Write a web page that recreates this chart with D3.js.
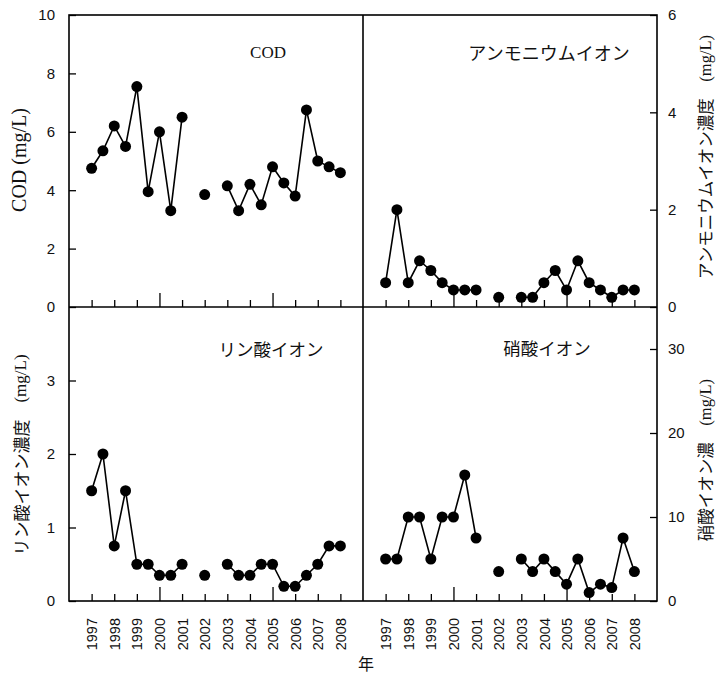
<html>
<head>
<meta charset="utf-8">
<title>水質の経年変化</title>
<script src="https://cdn.jsdelivr.net/npm/d3@7/dist/d3.min.js"></script>
<style>
	body { margin: 0; background: #fff; }
</style>
</head>
<body>
<div id="svg"></div>
<script type="text/javascript">
// sampling times (half-year steps), null values = not measured
var times = [1997, 1997.5, 1998, 1998.5, 1999, 1999.5, 2000, 2000.5, 2001, 2001.5, 2002, 2002.5,
             2003, 2003.5, 2004, 2004.5, 2005, 2005.5, 2006, 2006.5, 2007, 2007.5, 2008];
var years = [1997, 1998, 1999, 2000, 2001, 2002, 2003, 2004, 2005, 2006, 2007, 2008];

var cod       = [4.75, 5.35, 6.2, 5.5, 7.55, 3.95, 6.0, 3.3, 6.5, null, 3.85, null,
                 4.15, 3.3, 4.2, 3.5, 4.8, 4.25, 3.8, 6.75, 5.0, 4.8, 4.6];
var ammonium  = [0.5, 2.0, 0.5, 0.95, 0.75, 0.5, 0.35, 0.35, 0.35, null, 0.2, null,
                 0.2, 0.2, 0.5, 0.75, 0.35, 0.95, 0.5, 0.35, 0.2, 0.35, 0.35];
var phosphate = [1.5, 2.0, 0.75, 1.5, 0.5, 0.5, 0.35, 0.35, 0.5, null, 0.35, null,
                 0.5, 0.35, 0.35, 0.5, 0.5, 0.2, 0.2, 0.35, 0.5, 0.75, 0.75];
var nitrate   = [5, 5, 10, 10, 5, 10, 10, 15, 7.5, null, 3.5, null,
                 5, 3.5, 5, 3.5, 2, 5, 1, 2, 1.6, 7.5, 3.5];

var codTicks = [0, 2, 4, 6, 8, 10];
var ammoniumTicks = [0, 2, 4, 6];
var phosphateTicks = [0, 1, 2, 3];
var nitrateTicks = [0, 10, 20, 30];

var frame = { left: 69, right: 657, top: 15, bottom: 601, midx: 363, midy: 307 };
var jp = "'Noto Sans CJK JP', sans-serif";
var serif = "'Liberation Serif', 'DejaVu Serif', serif";
var sans = "'Liberation Sans', Arial, sans-serif";

var panels = [
	{ values: cod,       max: 10, ticks: codTicks,       col: 0, row: 0, title: "COD",             font: serif, size: 17,   tx: 268, ty: 52 },
	{ values: ammonium,  max: 6,  ticks: ammoniumTicks,  col: 1, row: 0, title: "アンモニウムイオン", font: jp,    size: 18,   tx: 549, ty: 52 },
	{ values: phosphate, max: 4,  ticks: phosphateTicks, col: 0, row: 1, title: "リン酸イオン",      font: jp,    size: 17.5, tx: 271, ty: 348 },
	{ values: nitrate,   max: 35, ticks: nitrateTicks,   col: 1, row: 1, title: "硝酸イオン",        font: jp,    size: 17.5, tx: 547, ty: 347 }
];

var svg = d3.select("#svg").append("svg")
	.attr("width", 718)
	.attr("height", 675);

panels.forEach(function(p) {
	var x0 = p.col === 0 ? frame.left : frame.midx;
	var x1 = p.col === 0 ? frame.midx : frame.right;
	var y0 = p.row === 0 ? frame.top : frame.midy;
	var y1 = p.row === 0 ? frame.midy : frame.bottom;

	var x = d3.scaleLinear().domain([1996, 2009]).range([x0, x1]);
	var y = d3.scaleLinear().domain([0, p.max]).range([y1, y0]);

	// x axis, ticks pointing up into the panel
	var xa = svg.append("g")
		.attr("transform", "translate(0," + y1 + ")")
		.call(d3.axisBottom(x).tickValues(years).tickSizeOuter(0).tickSizeInner(-7)
			.tickFormat(p.row === 1 ? d3.format("d") : function() { return ""; }));
	xa.select(".domain").remove();
	xa.selectAll(".tick line")
		.attr("y2", function(d) { return d % 5 === 0 ? -14 : -7; })
		.attr("stroke-width", 1.3);
	xa.selectAll(".tick text")
		.attr("transform", "rotate(-90)")
		.attr("text-anchor", "end")
		.attr("x", -17)
		.attr("y", 0)
		.attr("dy", "0.35em")
		.style("font-family", sans)
		.style("font-size", "14.5px")
		.attr("fill", "#111");

	// y axis, left for left panels, right for right panels
	var axis = p.col === 0 ? d3.axisLeft(y) : d3.axisRight(y);
	var ya = svg.append("g")
		.attr("transform", "translate(" + (p.col === 0 ? frame.left : frame.right) + ",0)")
		.call(axis.tickValues(p.ticks).tickFormat(d3.format("d")).tickSizeOuter(0).tickSizeInner(-7)
			.tickPadding(p.col === 0 ? 14 : 11));
	ya.select(".domain").remove();
	ya.selectAll(".tick line").attr("stroke-width", 1.3);
	ya.selectAll(".tick text")
		.style("font-family", sans)
		.style("font-size", "15px")
		.attr("fill", "#111");

	var line = d3.line()
		.defined(function(d) { return d.v !== null; })
		.x(function(d) { return x(d.t); })
		.y(function(d) { return y(d.v); });

	var pts = times.map(function(t, i) { return { t: t, v: p.values[i] }; });

	svg.append("path")
		.datum(pts)
		.attr("d", line)
		.attr("fill", "none")
		.attr("stroke", "#000")
		.attr("stroke-width", 1.6);

	svg.selectAll(null)
		.data(pts.filter(function(d) { return d.v !== null; }))
		.enter()
		.append("circle")
		.attr("cx", function(d) { return x(d.t); })
		.attr("cy", function(d) { return y(d.v); })
		.attr("r", 5.5)
		.attr("fill", "#000");

	svg.append("text")
		.attr("x", p.tx)
		.attr("y", p.ty)
		.attr("text-anchor", "middle")
		.attr("dominant-baseline", "central")
		.style("font-family", p.font)
		.style("font-size", p.size + "px")
		.attr("fill", "#111")
		.text(p.title);
});

// panel frame and dividers
svg.append("rect")
	.attr("x", frame.left).attr("y", frame.top)
	.attr("width", frame.right - frame.left).attr("height", frame.bottom - frame.top)
	.attr("fill", "none").attr("stroke", "#000").attr("stroke-width", 1.6);
svg.append("line")
	.attr("x1", frame.midx).attr("x2", frame.midx).attr("y1", frame.top).attr("y2", frame.bottom)
	.attr("stroke", "#000").attr("stroke-width", 1.6);
svg.append("line")
	.attr("x1", frame.left).attr("x2", frame.right).attr("y1", frame.midy).attr("y2", frame.midy)
	.attr("stroke", "#000").attr("stroke-width", 1.6);

// axis titles
function yTitle(cx, cy, label, size) {
	var t = svg.append("text")
		.attr("transform", "translate(" + cx + "," + cy + ") rotate(-90)")
		.attr("text-anchor", "middle")
		.attr("dominant-baseline", "central")
		.attr("fill", "#111")
		.style("font-size", size + "px");
	t.append("tspan").style("font-family", jp).text(label + "\u3000");
	t.append("tspan").style("font-family", serif).text("(mg/L)");
}

svg.append("text")
	.attr("transform", "translate(19,160) rotate(-90)")
	.attr("text-anchor", "middle")
	.attr("dominant-baseline", "central")
	.style("font-family", serif)
	.style("font-size", "20px")
	.attr("fill", "#111")
	.text("COD (mg/L)");

yTitle(20, 455, "リン酸イオン濃度", 17);
yTitle(705, 157, "アンモニウムイオン濃度", 16.5);
yTitle(705, 460, "硝酸イオン濃", 16.5);

svg.append("text")
	.attr("x", 366).attr("y", 663)
	.attr("text-anchor", "middle")
	.attr("dominant-baseline", "central")
	.style("font-family", jp)
	.style("font-size", "16px")
	.attr("fill", "#111")
	.text("年");
</script>
</body>
</html>
